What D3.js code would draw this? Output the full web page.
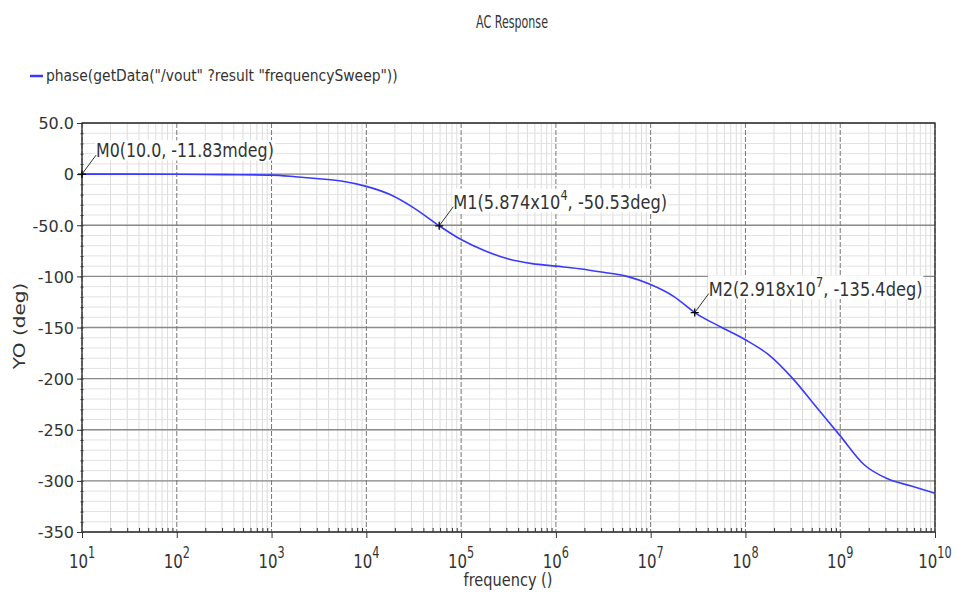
<!DOCTYPE html>
<html>
<head>
<meta charset="utf-8">
<script src="https://cdn.jsdelivr.net/npm/d3@7"></script>
<style>
body { margin: 0; background: #fff; }
text { font-family: "DejaVu Sans", sans-serif; fill: #333; }
</style>
</head>
<body>
<script>
// phase(vout)
var freq = [10, 100, 316, 1e3, 1.778e3, 3.162e3, 5.623e3, 1e4, 1.778e4, 3.162e4, 5.874e4,
	1e5, 1.778e5, 3.162e5, 5.623e5, 1e6, 1.778e6, 3.162e6, 5.623e6, 1e7, 1.778e7, 2.918e7,
	5.623e7, 1e8, 1.778e8, 3.162e8, 5.623e8, 1e9, 1.778e9, 3.162e9, 5.623e9, 1e10];
var phase = [-0.012, -0.1, -0.5, -1, -2.5, -4.5, -7, -12, -20, -33, -50.53,
	-64, -75, -83, -87.5, -90, -92.5, -96, -100, -108, -120, -135.4,
	-150, -162, -177, -200, -228, -256, -284, -298, -305, -312];

// markers
var markName = ["M0", "M1", "M2"];
var markFreq = [10, 5.874e4, 2.918e7];
var markPhase = [-0.01183, -50.53, -135.4];
var markMant = ["10.0", "5.874", "2.918"];
var markExp = [null, "4", "7"];
var markVal = ["-11.83mdeg", "-50.53deg", "-135.4deg"];
var markWidth = [178, 214, 214];

// ticks
var xTicks = [1e1, 1e2, 1e3, 1e4, 1e5, 1e6, 1e7, 1e8, 1e9, 1e10];
var xTickExp = ["1", "2", "3", "4", "5", "6", "7", "8", "9", "10"];
var yTicks = [50, 0, -50, -100, -150, -200, -250, -300, -350];
var yTickLabels = ["50.0", "0", "-50.0", "-100", "-150", "-200", "-250", "-300", "-350"];

// plot box (window.top is taken, so own names)
var pLeft = 82, pRight = 935, pTop = 123, pBottom = 532;

var svg = d3.select("body").append("svg")
	.attr("width", 963)
	.attr("height", 598);

var x = d3.scaleLog().domain([10, 1e10]).range([pLeft, pRight]);
var y = d3.scaleLinear().domain([-350, 50]).range([pBottom, pTop]);

// text squeezed horizontally to a width (font in the picture is tall and narrow)
function place(parent, px, py, anchor, size, width, build)
{
	var g = parent.append("g").attr("transform", "translate(" + px + "," + py + ")");
	var t = g.append("text").attr("text-anchor", anchor).style("font-size", size + "px");
	build(t);
	var k = width ? width / t.node().getBBox().width : 0.75;
	g.attr("transform", "translate(" + px + "," + py + ") scale(" + k + ",1)");
	return g;
}

// grid
var minorX = [];
xTicks.slice(0, -1).forEach(function(d){
	for (var m = 2; m < 10; m++) minorX.push(d * m);
});
var minorY = d3.range(-350, 51, 10);

svg.append("g").selectAll("line").data(minorX).enter().append("line")
	.attr("x1", function(d){ return x(d); })
	.attr("x2", function(d){ return x(d); })
	.attr("y1", pTop).attr("y2", pBottom)
	.attr("stroke", "#dcdcdc");

svg.append("g").selectAll("line").data(minorY).enter().append("line")
	.attr("x1", pLeft).attr("x2", pRight)
	.attr("y1", function(d){ return y(d); })
	.attr("y2", function(d){ return y(d); })
	.attr("stroke", "#e2e2e2");

svg.append("g").selectAll("line").data(yTicks).enter().append("line")
	.attr("x1", pLeft).attr("x2", pRight)
	.attr("y1", function(d){ return y(d); })
	.attr("y2", function(d){ return y(d); })
	.attr("stroke", "#8a8a8a")
	.attr("stroke-width", 1.3);

svg.append("g").selectAll("line").data(xTicks).enter().append("line")
	.attr("x1", function(d){ return x(d); })
	.attr("x2", function(d){ return x(d); })
	.attr("y1", pTop).attr("y2", pBottom)
	.attr("stroke", "#777")
	.attr("stroke-dasharray", "5,2");

// curve
var line = d3.line()
	.x(function(d, i){ return x(freq[i]); })
	.y(function(d){ return y(d); })
	.curve(d3.curveMonotoneX);

svg.append("path")
	.datum(phase)
	.attr("d", line)
	.attr("fill", "none")
	.attr("stroke", "#3a3aff")
	.attr("stroke-width", 1.6);

// frame
svg.append("rect")
	.attr("x", pLeft).attr("y", pTop)
	.attr("width", pRight - pLeft).attr("height", pBottom - pTop)
	.attr("fill", "none")
	.attr("stroke", "#333")
	.attr("stroke-width", 1.4);

// y axis
var yAxis = svg.append("g").attr("transform", "translate(" + pLeft + ",0)")
	.call(d3.axisLeft(y).tickValues(yTicks).tickSize(5).tickPadding(3)
		.tickFormat(function(d, i){ return yTickLabels[i]; }));
yAxis.select(".domain").remove();
yAxis.selectAll("line").attr("stroke", "#333");
yAxis.selectAll("text")
	.style("font-size", "16px")
	.style("font-family", "DejaVu Sans, sans-serif")
	.attr("fill", "#444")
	.attr("dy", "0.36em");

svg.append("g").attr("transform", "translate(" + (pLeft + 1.5) + ",0)")
	.call(d3.axisLeft(y).tickValues(minorY).tickSize(3).tickFormat(""))
	.call(function(g){ g.select(".domain").remove(); g.selectAll("line").attr("stroke", "#333"); });

// x axis
var xAxis = svg.append("g").attr("transform", "translate(0," + pBottom + ")")
	.call(d3.axisBottom(x).tickValues(xTicks).tickSize(6).tickFormat(""));
xAxis.select(".domain").remove();
xAxis.selectAll("line").attr("stroke", "#333");

svg.append("g").attr("transform", "translate(0," + pBottom + ")")
	.call(d3.axisTop(x).tickValues(minorX).tickSize(4).tickFormat(""))
	.call(function(g){ g.select(".domain").remove(); g.selectAll("line").attr("stroke", "#333"); });

xTicks.forEach(function(d, i){
	place(svg, x(d), 568, "middle", 20, null, function(t){
		t.attr("fill", "#444");
		t.append("tspan").text("10");
		t.append("tspan").attr("dy", -10).style("font-size", "15px").text(xTickExp[i]);
	});
});

// markers
markName.forEach(function(name, i){
	var mx = x(markFreq[i]), my = y(markPhase[i]);
	var g = place(svg, mx + 14, my - 17, "start", 20, markWidth[i], function(t){
		t.attr("fill", "#222");
		t.append("tspan").text(name + "(" + markMant[i] + (markExp[i] ? "x10" : ", "));
		if (markExp[i]) {
			t.append("tspan").attr("dy", -9).style("font-size", "14px").text(markExp[i]);
			t.append("tspan").attr("dy", 9).text(", " + markVal[i] + ")");
		} else {
			t.append("tspan").text(markVal[i] + ")");
		}
	});
	var bb = g.select("text").node().getBBox();
	g.insert("rect", "text")
		.attr("x", bb.x - 1).attr("y", bb.y + 2)
		.attr("width", bb.width + 2).attr("height", bb.height - 3)
		.attr("fill", "#fff");

	svg.append("line")
		.attr("x1", mx).attr("y1", my)
		.attr("x2", mx + 14).attr("y2", my - 19)
		.attr("stroke", "#333");
	svg.append("path")
		.attr("d", "M" + (mx - 4) + "," + my + "h8M" + mx + "," + (my - 4) + "v8")
		.attr("stroke", "#000")
		.attr("stroke-width", 1.3);
});

// title, legend, axis labels
place(svg, 512, 28, "middle", 17, 72, function(t){ t.attr("fill", "#222").text("AC Response"); });

svg.append("line")
	.attr("x1", 30).attr("x2", 43)
	.attr("y1", 76).attr("y2", 76)
	.attr("stroke", "#3a3aff")
	.attr("stroke-width", 2.5);
place(svg, 46, 81, "start", 16, 352, function(t){
	t.attr("fill", "#222").text("phase(getData(\"/vout\" ?result \"frequencySweep\"))");
});

place(svg, 508, 586, "middle", 17, 89, function(t){ t.attr("fill", "#333").text("frequency ()"); });

var yl = svg.append("g").attr("transform", "translate(25,326) rotate(-90)");
place(yl, 0, 0, "middle", 16, 88, function(t){ t.attr("fill", "#555").text("YO (deg)"); });
</script>
</body>
</html>
